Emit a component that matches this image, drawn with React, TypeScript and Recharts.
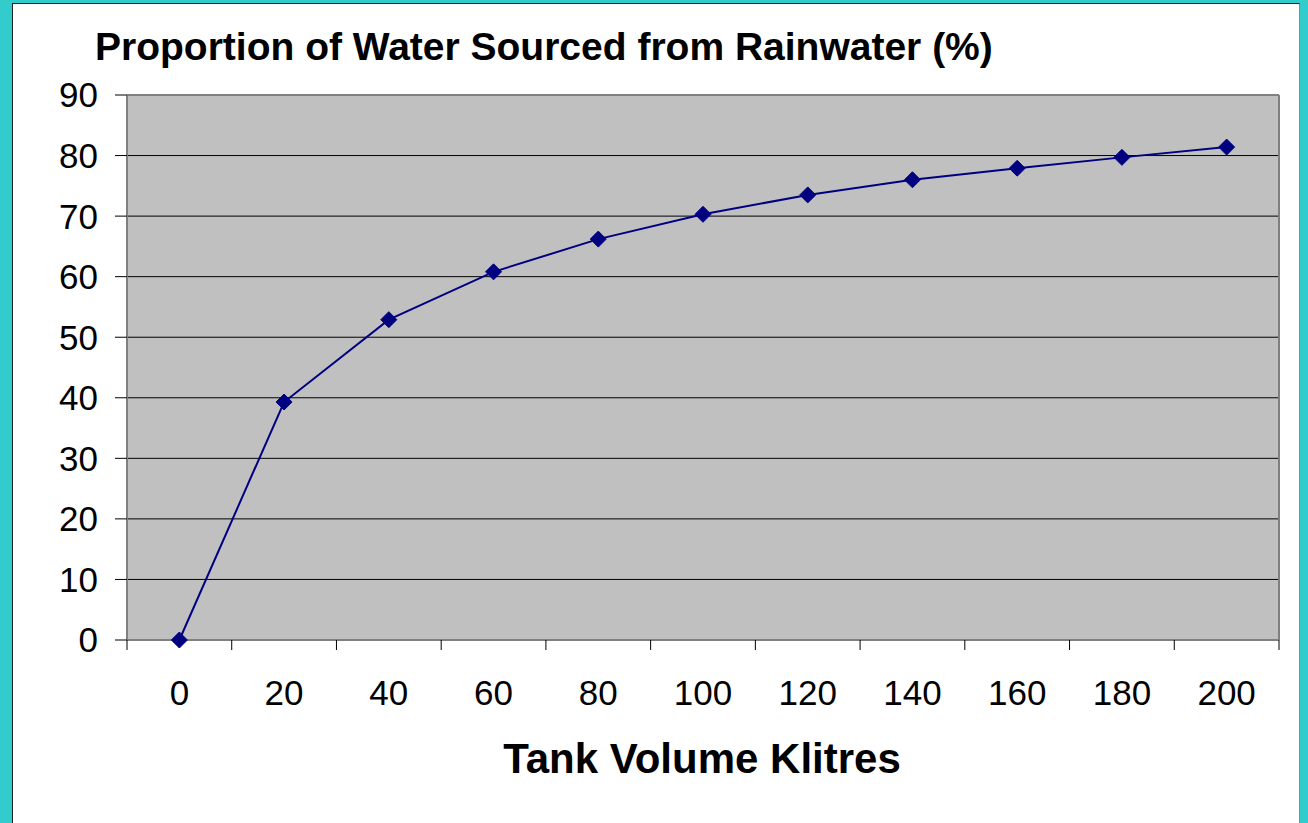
import { CartesianGrid, Line, LineChart, ReferenceLine, XAxis, YAxis } from 'recharts';

const tankVolumes = [0, 20, 40, 60, 80, 100, 120, 140, 160, 180, 200];
const rainwaterShare = [0, 39.3, 52.9, 60.8, 66.2, 70.3, 73.5, 76.0, 77.9, 79.7, 81.4];
const yTicks = [0, 10, 20, 30, 40, 50, 60, 70, 80, 90];
// category boundaries, where Excel puts the tick marks
const xBoundaries = [-10, 10, 30, 50, 70, 90, 110, 130, 150, 170, 190, 210];

const NAVY = '#000080';
const FONT = '"Liberation Sans", Arial, sans-serif';

const data = tankVolumes.map((v, i) => ({ volume: v, share: rainwaterShare[i] }));

function Diamond(props: { cx?: number; cy?: number; index?: number }) {
  const { cx, cy, index } = props;
  if (cx == null || cy == null) return <g key={index} />;
  const r = 8;
  return (
    <path
      key={index}
      d={`M${cx},${cy - r} L${cx + r},${cy} L${cx},${cy + r} L${cx - r},${cy} Z`}
      fill={NAVY}
      stroke={NAVY}
    />
  );
}

export default function App() {
  return (
    <div
      style={{
        position: 'fixed',
        left: 0,
        top: 0,
        width: 1308,
        height: 823,
        background: '#33CCCC',
        overflow: 'hidden',
      }}
    >
      <div
        style={{
          position: 'absolute',
          left: 12,
          top: 3,
          width: 1286,
          height: 840,
          background: '#fff',
          borderLeft: '1px solid #222',
          borderTop: '1px solid #222',
          borderRight: '1px solid #888',
        }}
      />
      <div style={{ position: 'absolute', left: 0, top: 0 }}>
        <LineChart
          width={1308}
          height={823}
          data={data}
          margin={{ top: 95, right: 29, left: 0, bottom: 113 }}
        >
          <CartesianGrid
            horizontal
            vertical={false}
            fill="#C0C0C0"
            stroke="#000"
            strokeWidth={1}
            xAxisId="a"
          />
          <XAxis
            xAxisId="b"
            type="number"
            dataKey="volume"
            domain={[-10, 210]}
            ticks={tankVolumes}
            interval={0}
            height={60}
            tickSize={0}
            tickMargin={30}
            tickLine={false}
            axisLine={false}
            tick={{ fontSize: 35, fill: '#000', fontFamily: FONT }}
          />
          <XAxis
            xAxisId="a"
            type="number"
            dataKey="volume"
            domain={[-10, 210]}
            ticks={xBoundaries}
            interval={0}
            height={10}
            tickSize={10}
            tickLine={{ stroke: '#000', strokeWidth: 1 }}
            axisLine={{ stroke: '#808080', strokeWidth: 2 }}
            tick={() => <g />}
          />
          <YAxis
            type="number"
            domain={[0, 90]}
            ticks={yTicks}
            interval={0}
            width={127}
            tickSize={12}
            tickMargin={17}
            tickLine={{ stroke: '#000', strokeWidth: 1 }}
            axisLine={{ stroke: '#808080', strokeWidth: 2 }}
            tick={{ fontSize: 35, fill: '#000', fontFamily: FONT }}
          />
          <ReferenceLine xAxisId="a" x={210} stroke="#808080" strokeWidth={2} />
          <ReferenceLine xAxisId="a" y={90} stroke="#808080" strokeWidth={2} />
          <Line
            xAxisId="a"
            type="linear"
            dataKey="share"
            stroke={NAVY}
            strokeWidth={2}
            dot={(p: any) => <Diamond key={p.index} cx={p.cx} cy={p.cy} index={p.index} />}
            activeDot={false}
            isAnimationActive={false}
          />
        </LineChart>
      </div>
      <svg
        width={1308}
        height={823}
        style={{ position: 'absolute', left: 0, top: 0, pointerEvents: 'none' }}
      >
        <text x={95} y={60} fontFamily={FONT} fontWeight="bold" fontSize={39} fill="#000">
          Proportion of Water Sourced from Rainwater (%)
        </text>
        <text
          x={702}
          y={773}
          textAnchor="middle"
          fontFamily={FONT}
          fontWeight="bold"
          fontSize={42}
          fill="#000"
        >
          Tank Volume Klitres
        </text>
      </svg>
    </div>
  );
}
